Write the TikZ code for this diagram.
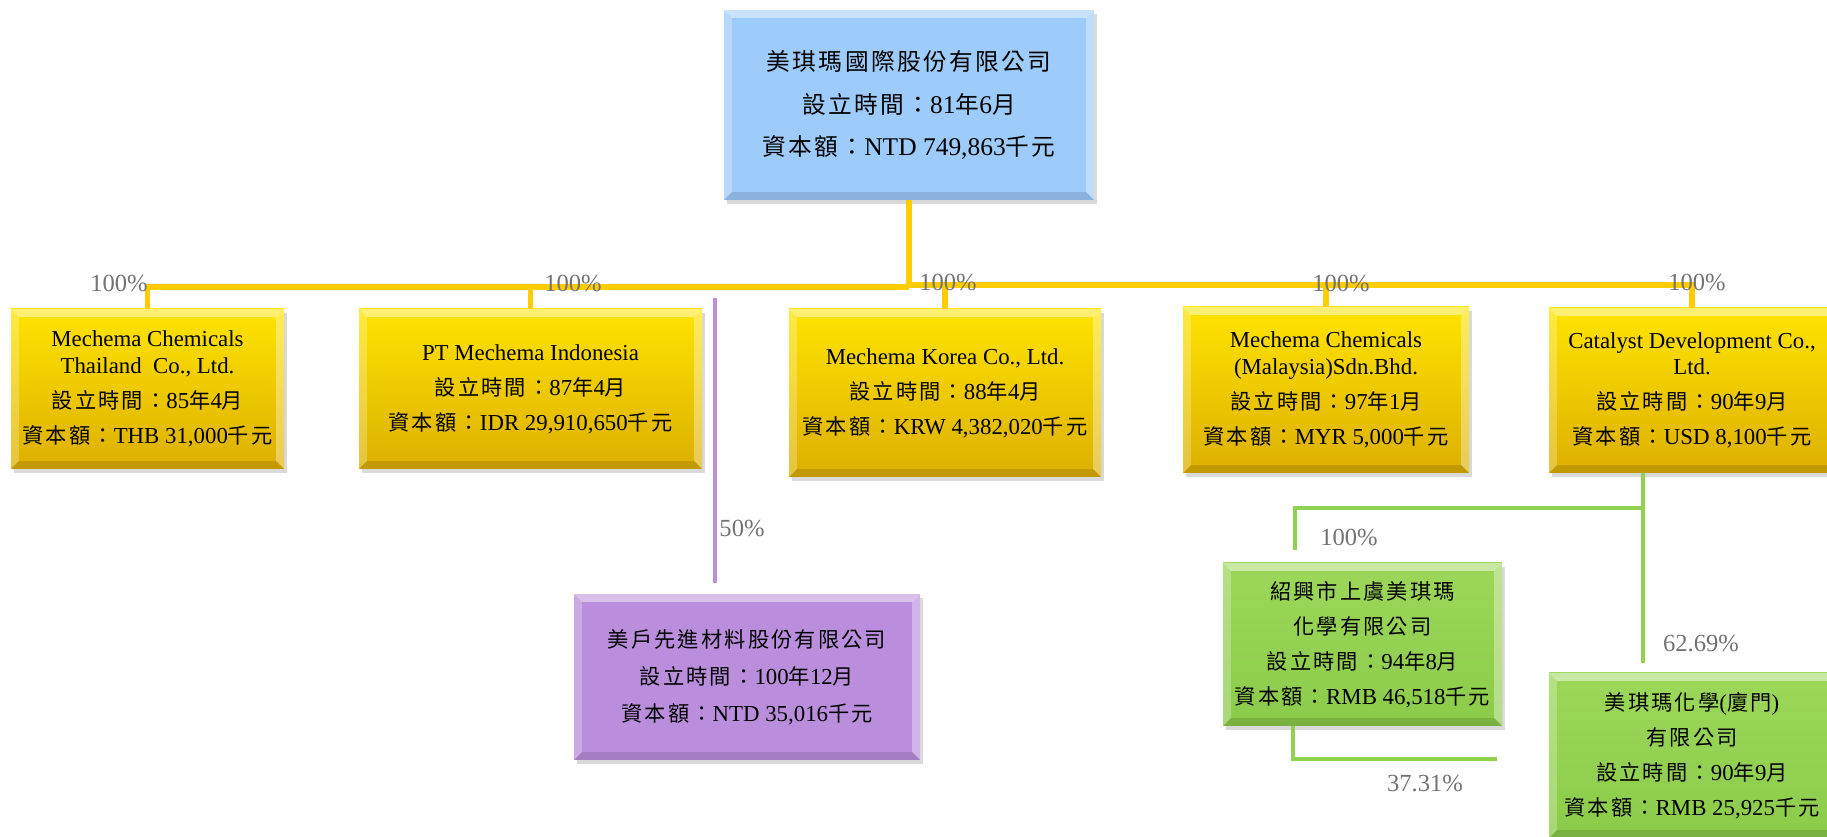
\documentclass[tikz,border=0pt]{standalone}
\usepackage{fontspec}
\setmainfont{Liberation Serif}
\newfontfamily\zhfont[Scale=0.93,LetterSpace=10]{Noto Sans CJK TC}
\usetikzlibrary{shadows}
\newcommand\zh[1]{{\zhfont #1}}
\newcommand\founded[2]{\zh{設立時間：}#1\zh{年}#2\zh{月}}
\newcommand\capital[1]{\zh{資本額：}#1\zh{千元}}
\definecolor{cGoldTop}{HTML}{FFE400}
\definecolor{cGoldBot}{HTML}{DCAF00}
\definecolor{cGold}{HTML}{FFCC00}
\definecolor{cSky}{HTML}{9DCBFA}
\definecolor{cLilac}{HTML}{BA8EDC}
\definecolor{cLeafTop}{HTML}{9CD75A}
\definecolor{cLeafBot}{HTML}{8CCB4A}
\definecolor{cLeaf}{HTML}{92D050}
\definecolor{cPct}{HTML}{737373}
\tikzset{
  sz/.style 2 args={minimum width=#1*0.02cm, minimum height=#2*0.02cm},
  bevel/.style={path picture={
    \path (path picture bounding box.north west) coordinate (nw)
          (path picture bounding box.north east) coordinate (ne)
          (path picture bounding box.south west) coordinate (sw)
          (path picture bounding box.south east) coordinate (se);
    \fill[white,opacity=.45] (nw) -- (ne) -- ([shift={(-4.5pt,-4.5pt)}]ne) -- ([shift={(4.5pt,-4.5pt)}]nw) -- cycle;
    \fill[white,opacity=.25] (nw) -- ([shift={(4.5pt,-4.5pt)}]nw) -- ([shift={(4.5pt,4.5pt)}]sw) -- (sw) -- cycle;
    \fill[white,opacity=.35] (ne) -- ([shift={(-4.5pt,-4.5pt)}]ne) -- ([shift={(-4.5pt,4.5pt)}]se) -- (se) -- cycle;
    \fill[black,opacity=.12] (sw) -- (se) -- ([shift={(-4.5pt,4.5pt)}]se) -- ([shift={(4.5pt,4.5pt)}]sw) -- cycle;}},
  orgbox/.style={rectangle, inner sep=0pt, align=center, bevel,
    font=\fontsize{13}{15}\selectfont,
    drop shadow={opacity=.3, shadow xshift=1.5pt, shadow yshift=-2.5pt}},
  goldbox/.style={orgbox, top color=cGoldTop, bottom color=cGoldBot},
  skybox/.style={orgbox, fill=cSky},
  lilacbox/.style={orgbox, fill=cLilac},
  leafbox/.style={orgbox, top color=cLeafTop, bottom color=cLeafBot},
  goldline/.style={draw=cGold, line width=3.4pt},
  leafline/.style={draw=cLeaf, line width=2.8pt},
  lilacline/.style={draw=cLilac, line width=2.8pt},
  pct/.style={text=cPct, inner sep=0pt, font=\fontsize{14}{16}\selectfont}
}
\begin{document}
\begin{tikzpicture}[x=0.02cm,y=-0.02cm]
\useasboundingbox (0,0) rectangle (1827,837);
\clip (0,0) rectangle (1827,837);
% companies
\node[skybox, sz={370}{190}, font=\fontsize{14.5}{17}\selectfont] (mgc) at (909,105)
  {\zh{美琪瑪國際股份有限公司}\\[7pt] \founded{81}{6}\\[7pt] \capital{NTD 749,863}};
\node[goldbox, sz={273}{160}] (thai) at (147.5,389)
  {Mechema Chemicals\\Thailand\ \ Co., Ltd.\\[5pt] \founded{85}{4}\\[5pt] \capital{THB 31,000}};
\node[goldbox, sz={343}{160}] (indo) at (530.5,389)
  {PT Mechema Indonesia\\[5pt] \founded{87}{4}\\[5pt] \capital{IDR 29,910,650}};
\node[goldbox, sz={312}{168}] (korea) at (945,393)
  {Mechema Korea Co., Ltd.\\[5pt] \founded{88}{4}\\[5pt] \capital{KRW 4,382,020}};
\node[goldbox, sz={286}{166}] (malay) at (1326,390)
  {Mechema Chemicals\\(Malaysia)Sdn.Bhd.\\[5pt] \founded{97}{1}\\[5pt] \capital{MYR 5,000}};
\node[goldbox, sz={286}{165}] (cat) at (1692,390.5)
  {Catalyst Development Co.,\\Ltd.\\[5pt] \founded{90}{9}\\[5pt] \capital{USD 8,100}};
\node[lilacbox, sz={346}{166}] (mehu) at (747,677)
  {\zh{美戶先進材料股份有限公司}\\[6pt] \founded{100}{12}\\[6pt] \capital{NTD 35,016}};
\node[leafbox, sz={279}{163}] (sx) at (1362.5,644.5)
  {\zh{紹興市上虞美琪瑪}\\[5pt] \zh{化學有限公司}\\[5pt] \founded{94}{8}\\[5pt] \capital{RMB 46,518}};
\node[leafbox, sz={286}{165}] (xm) at (1692,755.5)
  {\zh{美琪瑪化學}(\zh{廈門})\\[5pt] \zh{有限公司}\\[5pt] \founded{90}{9}\\[5pt] \capital{RMB 25,925}};
% holdings
\coordinate (busL) at (909,287);
\coordinate (busR) at (909,285);
\draw[goldline] (mgc.south) -- (busL);
\draw[goldline] (busL) -| (thai.north);
\draw[goldline] (busL) -| (indo.north);
\draw[goldline] (busR) -| (korea.north);
\draw[goldline] (busR) -| (malay.north);
\draw[goldline] (busR) -| (cat.north);
\coordinate (jv) at (715,298);
\draw[lilacline, shorten >=0.22cm] (jv) -- (jv |- mehu.north);
\coordinate (gj) at (1643,508);
\coordinate (gl) at (1295,508);
\draw[leafline, shorten >=0.2cm] (cat.south -| gj) -- (gj |- xm.north);
\draw[leafline, shorten >=0.26cm] (gj) -- (gl) -- (gl |- sx.north);
\coordinate (gf) at (1293,759);
\draw[leafline, shorten >=0.1cm] (sx.south -| gf) -- (gf) -- (gf -| sx.east);
\foreach \x/\y/\txt [count=\i] in {119/283/100\%, 573/283/100\%, 948/282/100\%,
    1341/283/100\%, 1697/282/100\%, 742/528/50\%, 1349/537/100\%,
    1701/643/62.69\%, 1425/783/37.31\%}
  \node[pct] (pct\i) at (\x,\y) {\txt};
\end{tikzpicture}
\end{document}
